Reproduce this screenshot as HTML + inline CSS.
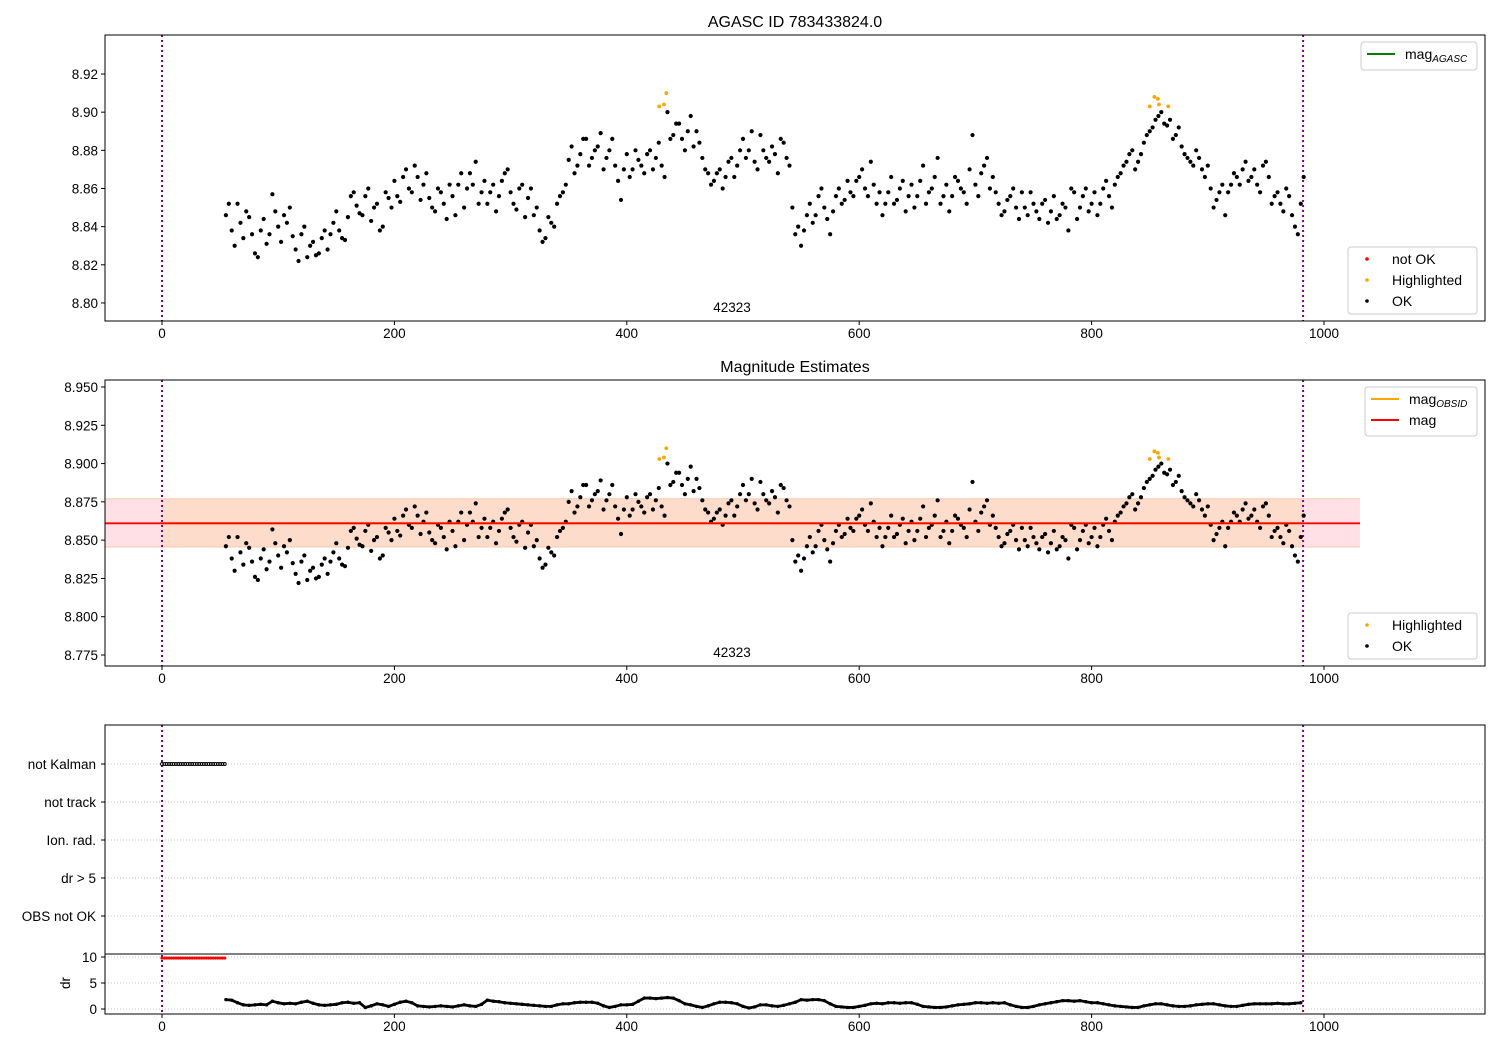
<!DOCTYPE html>
<html><head><meta charset="utf-8"><style>
body{margin:0;background:#fff}
svg text{font-family:"Liberation Sans",sans-serif;fill:#000}
</style></head><body>
<svg id="chart" width="1500" height="1050" viewBox="0 0 1500 1050" xmlns="http://www.w3.org/2000/svg"></svg>
<script>
const okA=[8.846,8.838,8.852,8.834,8.845,8.826,8.838,8.831,8.857,8.840,8.846,8.850,8.828,8.836,8.824,8.832,8.826,8.838,8.836,8.848,8.834,8.845,8.858,8.847,8.856,8.843,8.852,8.840,8.855,8.864,8.853,8.870,8.858,8.866,8.862,8.855,8.848,8.858,8.844,8.856,8.862,8.850,8.868,8.874,8.858,8.852,8.862,8.856,8.868,8.858,8.849,8.862,8.855,8.846,8.838,8.834,8.842,8.852,8.858,8.875,8.868,8.878,8.886,8.876,8.882,8.870,8.880,8.872,8.854,8.878,8.870,8.875,8.868,8.880,8.876,8.872,8.900,8.888,8.894,8.880,8.898,8.890,8.876,8.868,8.864,8.870,8.866,8.876,8.872,8.886,8.880,8.874,8.888,8.876,8.882,8.868,8.884,8.872,8.836,8.830,8.846,8.842,8.856,8.850,8.836,8.856,8.852,8.864,8.856,8.866,8.860,8.874,8.852,8.846,8.858,8.852,8.860,8.848,8.862,8.856,8.872,8.858,8.866,8.852,8.862,8.856,8.864,8.858,8.870,8.862,8.868,8.876,8.866,8.852,8.848,8.856,8.850,8.858,8.846,8.852,8.844,8.854,8.848,8.844,8.852,8.838,8.858,8.850,8.860,8.852,8.846,8.860,8.856,8.862,8.868,8.874,8.880,8.874,8.884,8.890,8.896,8.900,8.893,8.886,8.892,8.878,8.874,8.880,8.870,8.872,8.850,8.858,8.846,8.862,8.866,8.870,8.864,8.870,8.858,8.874,8.852,8.858,8.848,8.856,8.840,8.852];
const okB=[8.852,8.830,8.842,8.848,8.836,8.824,8.844,8.836,8.848,8.832,8.842,8.835,8.822,8.840,8.830,8.825,8.834,8.828,8.842,8.838,8.833,8.856,8.851,8.846,8.860,8.850,8.838,8.858,8.850,8.856,8.866,8.860,8.872,8.854,8.868,8.850,8.860,8.852,8.862,8.846,8.868,8.860,8.862,8.852,8.864,8.858,8.848,8.864,8.870,8.852,8.860,8.845,8.860,8.850,8.832,8.845,8.840,8.856,8.862,8.882,8.872,8.886,8.872,8.880,8.889,8.876,8.886,8.864,8.870,8.866,8.880,8.872,8.878,8.870,8.884,8.866,8.886,8.894,8.886,8.890,8.882,8.884,8.870,8.862,8.868,8.860,8.874,8.866,8.880,8.876,8.890,8.870,8.880,8.874,8.878,8.886,8.876,8.850,8.840,8.838,8.852,8.846,8.860,8.844,8.848,8.860,8.854,8.858,8.864,8.870,8.856,8.862,8.858,8.852,8.866,8.854,8.864,8.856,8.850,8.864,8.852,8.860,8.876,8.856,8.848,8.866,8.860,8.852,8.888,8.856,8.872,8.860,8.858,8.846,8.854,8.860,8.844,8.850,8.858,8.848,8.852,8.842,8.856,8.846,8.850,8.860,8.844,8.856,8.848,8.858,8.852,8.864,8.850,8.866,8.872,8.878,8.870,8.878,8.888,8.892,8.898,8.894,8.896,8.888,8.882,8.876,8.872,8.876,8.866,8.860,8.854,8.862,8.858,8.868,8.862,8.874,8.866,8.862,8.872,8.866,8.856,8.852,8.860,8.846,8.836,8.866];
const hiTimes=[428,432,434,850,854,857,858,866];
const hiMags=[8.903,8.904,8.910,8.903,8.908,8.907,8.904,8.903];
const drValues=[1.8,1.7,1.2,0.8,0.7,0.8,0.9,0.8,1.5,1.2,1.0,1.1,1.0,1.3,1.5,1.1,0.8,0.7,0.8,0.9,1.2,1.3,1.1,1.2,0.3,0.6,1.0,0.8,0.5,0.9,1.3,1.5,1.2,0.6,0.5,0.4,0.5,0.6,0.5,0.4,0.6,0.8,0.6,0.5,0.9,1.7,1.5,1.4,1.2,1.1,1.0,0.9,0.8,0.7,0.6,0.5,0.5,0.8,1.0,1.0,1.2,1.3,1.3,1.3,1.1,0.6,0.3,0.5,0.8,0.8,0.9,1.5,2.1,2.1,2.0,2.1,2.2,2.1,1.6,1.0,0.8,0.5,0.3,0.6,1.0,1.3,1.3,1.2,1.0,0.5,0.2,0.4,0.8,0.8,0.6,0.5,0.7,1.0,1.3,1.8,1.7,1.8,1.8,1.6,1.0,0.5,0.4,0.3,0.3,0.5,0.7,1.0,1.1,1.0,1.2,1.2,1.1,1.2,1.2,0.9,0.5,0.4,0.3,0.3,0.4,0.6,0.8,0.9,1.0,1.2,1.2,1.1,1.2,1.1,1.2,0.8,0.5,0.3,0.3,0.5,0.8,1.0,1.2,1.4,1.6,1.6,1.5,1.6,1.4,1.2,1.2,1.0,0.8,0.6,0.5,0.4,0.3,0.3,0.6,0.8,1.0,1.0,0.8,0.6,0.5,0.5,0.6,0.8,0.9,1.0,1.0,0.8,0.6,0.5,0.5,0.7,0.9,1.0,1.0,1.0,1.0,1.1,1.0,1.0,1.1,1.2];
const categories=["not Kalman","not track","Ion. rad.","dr > 5","OBS not OK"];
const xTicks=[0,200,400,600,800,1000];
const y1Ticks=["8.80","8.82","8.84","8.86","8.88","8.90","8.92"];
const y2Ticks=["8.775","8.800","8.825","8.850","8.875","8.900","8.925","8.950"];
const drTicks=[0,5,10];
const magMean=8.861, magLo=8.8455, magHi=8.877;
const obsStart=0, obsEnd=982;

const NS="http://www.w3.org/2000/svg";
const svg=document.getElementById('chart');
function el(tag,attrs,parent,text){const e=document.createElementNS(NS,tag);for(const k in attrs)e.setAttribute(k,attrs[k]);if(text!==undefined)e.textContent=text;(parent||svg).appendChild(e);return e;}
const px=x=>162+x*1.162;
const y1=m=>74+(8.92-m)*1908;
const y2=m=>387+(8.95-m)*1531.4;
const yd=v=>1009-v*5.2;
const L=105,R=1485;
const timeA=i=>55+i*5, timeB=i=>57.5+i*5;
const DOT=2.1;

function xAxis(bottom,name){
  const g=el('g',{},svg);
  
  
  xTicks.forEach(t=>{
    el('line',{x1:px(t),x2:px(t),y1:bottom,y2:bottom+4,stroke:'#000'},g);
    const tx=el('text',{x:px(t),y:bottom+17,'text-anchor':'middle','font-size':13.5},g,String(t));
    
    
  });
}
function yAxis(ticks,fy,name){
  const g=el('g',{},svg);
  
  
  ticks.forEach(t=>{
    const y=fy(parseFloat(t));
    el('line',{x1:L-4,x2:L,y1:y,y2:y,stroke:'#000'},g);
    const tx=el('text',{x:L-7,y:y+5,'text-anchor':'end','font-size':13.5},g,t);
    
    
  });
}
function vlines(top,bottom){
  [obsStart,obsEnd].forEach(t=>{
    const l=el('line',{x1:px(t),x2:px(t),y1:top,y2:bottom,stroke:'#800080','stroke-width':2,'stroke-dasharray':'2,3'});
    
    
  });
}
function scatter(fy,name){
  const g=el('g',{},svg);
  
  
  okA.forEach((m,i)=>{const c=el('circle',{cx:px(timeA(i)),cy:fy(m),r:DOT,fill:'#000'},g);});
  okB.forEach((m,i)=>{const c=el('circle',{cx:px(timeB(i)),cy:fy(m),r:DOT,fill:'#000'},g);});
  hiTimes.forEach((t,i)=>{const c=el('circle',{cx:px(t),cy:fy(hiMags[i]),r:1.9,fill:'orange'},g);});
}
function frame(top,bottom,name){
  const r=el('rect',{x:L,y:top,width:R-L,height:bottom-top,fill:'none',stroke:'#000','stroke-width':1});
  
  
}
function legend(x,y,w,h,items,name){
  const g=el('g',{},svg);
  
  
  el('rect',{x:x,y:y,width:w,height:h,rx:3,fill:'#fff','fill-opacity':0.8,stroke:'#ccc'},g);
  items.forEach((it,i)=>{
    const cy=y+12+i*21;
    if(it.type==='line') el('line',{x1:x+6,x2:x+34,y1:cy,y2:cy,stroke:it.color,'stroke-width':2},g);
    else el('circle',{cx:x+19,cy:cy,r:1.8,fill:it.color},g);
    const t=el('text',{x:x+44,y:cy+5,'font-size':14},g,it.label);
    if(it.sub) el('tspan',{'font-size':10,'font-style':'italic',dy:3},t,it.sub);
    
    
  });
}

let t=el('text',{x:795,y:27,'text-anchor':'middle','font-size':16},svg,'AGASC ID 783433824.0');

t=el('text',{x:795,y:372,'text-anchor':'middle','font-size':16},svg,'Magnitude Estimates');


// Panel 1
vlines(35,321);
scatter(y1,'panel1-scatter');
t=el('text',{x:732,y:312,'text-anchor':'middle','font-size':13.5},svg,'42323');

frame(35,321,'panel1-axes');
xAxis(321,'panel1-x-axis');
yAxis(y1Ticks,y1,'panel1-y-axis');
legend(1361,42,116,28,[{type:'line',color:'green',label:'mag',sub:'AGASC'}],'panel1-legend-top');
legend(1348,247,129,67,[{type:'dot',color:'red',label:'not OK'},{type:'dot',color:'orange',label:'Highlighted'},{type:'dot',color:'#000',label:'OK'}],'panel1-legend-bottom');

// Panel 2
let b=el('rect',{x:L,y:y2(magHi),width:px(1031)-L,height:y2(magLo)-y2(magHi),fill:'#ffe0e6'});

b=el('rect',{x:px(obsStart),y:y2(magHi),width:px(obsEnd)-px(obsStart),height:y2(magLo)-y2(magHi),fill:'#fedccb'});

el('line',{x1:px(-49),x2:px(1031),y1:y2(magHi),y2:y2(magHi),stroke:'#fbc8a8','stroke-width':1});
el('line',{x1:px(-49),x2:px(1031),y1:y2(magLo),y2:y2(magLo),stroke:'#fbc8a8','stroke-width':1});
vlines(380,666);
scatter(y2,'panel2-scatter');
let ln=el('line',{x1:px(obsStart),x2:px(obsEnd),y1:y2(magMean),y2:y2(magMean),stroke:'orange','stroke-width':2});

ln=el('line',{x1:px(-49),x2:px(1031),y1:y2(magMean),y2:y2(magMean),stroke:'red','stroke-width':1.8});

t=el('text',{x:732,y:657,'text-anchor':'middle','font-size':13.5},svg,'42323');

frame(380,666,'panel2-axes');
xAxis(666,'panel2-x-axis');
yAxis(y2Ticks,y2,'panel2-y-axis');
legend(1365,387,112,49,[{type:'line',color:'orange',label:'mag',sub:'OBSID'},{type:'line',color:'red',label:'mag'}],'panel2-legend-top');
legend(1348,613,129,46,[{type:'dot',color:'orange',label:'Highlighted'},{type:'dot',color:'#000',label:'OK'}],'panel2-legend-bottom');

// Panel 3 flags
const catY=i=>764+i*38;
categories.forEach((c,i)=>{
  el('line',{x1:L,x2:R,y1:catY(i),y2:catY(i),stroke:'#b0b0b0','stroke-width':0.8,'stroke-dasharray':'1,2'});
  el('line',{x1:L-4,x2:L,y1:catY(i),y2:catY(i),stroke:'#000'});
  const tx=el('text',{x:L-9,y:catY(i)+5,'text-anchor':'end','font-size':13.5},svg,c);
  
});
drTicks.forEach(v=>{
  el('line',{x1:L,x2:R,y1:yd(v),y2:yd(v),stroke:'#b0b0b0','stroke-width':0.8,'stroke-dasharray':'1,2'});
});
vlines(725,1014);
const fg=el('g',{},svg);


const rg=el('g',{},svg);


for(let s=0;s<=54;s+=2){
  el('circle',{cx:px(s),cy:catY(0),r:1.5,fill:'none',stroke:'#000','stroke-width':0.9},fg);
  el('circle',{cx:px(s),cy:yd(9.8),r:1.6,fill:'red'},rg);
}
const dg=el('g',{},svg);


let pts=drValues.map((v,i)=>px(timeA(i))+','+yd(v)).join(' ');
el('polyline',{points:pts,fill:'none',stroke:'#000','stroke-width':2.8},dg);
drValues.forEach((v,i)=>{const c=el('circle',{cx:px(timeA(i)),cy:yd(v),r:1.7,fill:'#000'},dg);});
frame(725,1014,'panel3-axes');
el('line',{x1:L,x2:R,y1:954,y2:954,stroke:'#000','stroke-width':1});
xAxis(1014,'panel3-x-axis');
const dyg=el('g',{},svg);


drTicks.forEach(v=>{
  el('line',{x1:L-4,x2:L,y1:yd(v),y2:yd(v),stroke:'#000'},dyg);
  el('text',{x:L-8,y:yd(v)+5,'text-anchor':'end','font-size':13.5},dyg,String(v));
});
t=el('text',{x:70,y:983,'text-anchor':'middle','font-size':13.5,transform:'rotate(-90 70 983)'},svg,'dr');

</script>
</body></html>
